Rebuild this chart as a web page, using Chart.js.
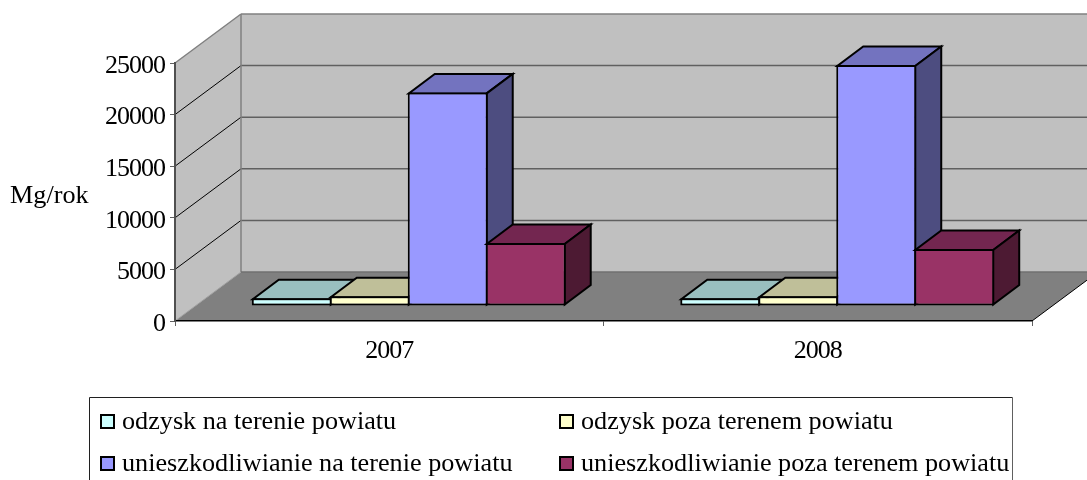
<!DOCTYPE html>
<html><head><meta charset="utf-8">
<style>html,body{margin:0;padding:0;background:#fff}canvas{display:block}</style>
<script src="https://cdn.jsdelivr.net/npm/chart.js@4"></script>
</head><body><canvas id="c" width="1087" height="480"></canvas>
<script>
const categories = ['2007', '2008'];
const odzyskNaTerenie = [750, 750];
const odzyskPozaTerenem = [940, 940];
const unieszkNaTerenie = [20700, 23350];
const unieszkPozaTerenem = [6100, 5520];
const seriesNames = ['odzysk na terenie powiatu','odzysk poza terenem powiatu','unieszkodliwianie na terenie powiatu','unieszkodliwianie poza terenem powiatu'];
const seriesColors = ['#CCFFFF','#FFFFCC','#9999FF','#993366'];
const topColors = ['#99BFBF','#BFBF99','#7373BF','#732650'];
const sideColors = ['#668080','#808066','#4D4D80','#4D1A33'];
const yUnit = 'Mg/rok';
const FONT = '"Liberation Serif", "Times New Roman", serif';
const WALL = {dx:66, dy:49};
const BAR = {shiftX:19.5, shiftY:15, dx:26, dy:19.5};

function poly(ctx, pts, fill, stroke, lw){
  ctx.beginPath();
  pts.forEach((p,i)=> i?ctx.lineTo(p[0],p[1]):ctx.moveTo(p[0],p[1]));
  ctx.closePath();
  if(fill){ctx.fillStyle=fill;ctx.fill();}
  if(stroke){ctx.strokeStyle=stroke;ctx.lineWidth=lw;ctx.lineJoin='miter';ctx.stroke();}
}
function seg(ctx,x1,y1,x2,y2,c,lw){
  ctx.beginPath();ctx.moveTo(x1,y1);ctx.lineTo(x2,y2);ctx.strokeStyle=c;ctx.lineWidth=lw;ctx.stroke();
}
const walls = {
  id:'walls',
  beforeDraw(chart){
    const {ctx,chartArea:a,scales:{y}} = chart;
    const d=WALL;
    ctx.save();
    poly(ctx,[[a.left+d.dx,a.top-d.dy],[a.right+d.dx,a.top-d.dy],[a.right+d.dx,a.bottom-d.dy],[a.left+d.dx,a.bottom-d.dy]],'#C0C0C0');
    poly(ctx,[[a.left,a.top],[a.left+d.dx,a.top-d.dy],[a.left+d.dx,a.bottom-d.dy],[a.left,a.bottom]],'#C0C0C0');
    poly(ctx,[[a.left,a.bottom],[a.right,a.bottom],[a.right+d.dx,a.bottom-d.dy],[a.left+d.dx,a.bottom-d.dy]],'#808080');
    y.ticks.forEach(t=>{
      const py=y.getPixelForValue(t.value);
      if(t.value>0 && t.value<y.max){
        seg(ctx,a.left,py,a.left+d.dx,py-d.dy,'#000',1);
        seg(ctx,a.left+d.dx,py-d.dy,a.right+d.dx,py-d.dy,'#606060',1.5);
      }
    });
    seg(ctx,a.left,a.top,a.left+d.dx,a.top-d.dy,'#808080',1.5);
    seg(ctx,a.left+d.dx,a.top-d.dy,a.right+d.dx,a.top-d.dy,'#808080',1.5);
    seg(ctx,a.left+d.dx,a.top-d.dy,a.left+d.dx,a.bottom-d.dy,'#808080',1.5);
    seg(ctx,a.left+d.dx,a.bottom-d.dy,a.right+d.dx,a.bottom-d.dy,'#707070',1.5);
    seg(ctx,a.left,a.bottom,a.left+d.dx,a.bottom-d.dy,'#A0A0A0',1);
    seg(ctx,a.right,a.bottom,a.right+d.dx,a.bottom-d.dy,'#000',1);
    ctx.restore();
    ctx.letterSpacing='-1px';
  },
  beforeDatasetsDraw(chart){
    const ctx=chart.ctx;
    const metas=chart.data.datasets.map((_,i)=>chart.getDatasetMeta(i));
    ctx.save();
    ctx.translate(BAR.shiftX,-BAR.shiftY);
    metas.forEach((meta,k)=>{
      meta.data.forEach(el=>{
        const l=el.x-el.width/2+1, r=el.x+el.width/2-1, t=el.y+1, b=el.base-1;
        poly(ctx,[[l,t],[r,t],[r+BAR.dx,t-BAR.dy],[l+BAR.dx,t-BAR.dy]],topColors[k],'#000',2);
        poly(ctx,[[r,t],[r+BAR.dx,t-BAR.dy],[r+BAR.dx,b-BAR.dy],[r,b]],sideColors[k],'#000',2);
      });
      meta.controller.draw();
    });
    ctx.restore();
    return false;
  },
  afterDraw(chart){
    const ctx=chart.ctx;
    ctx.save();
    ctx.letterSpacing='0px';
    ctx.font='26.2px '+FONT;
    ctx.fillStyle='#000';
    ctx.textAlign='left';
    ctx.textBaseline='alphabetic';
    ctx.fillText(yUnit,10,203);
    ctx.lineWidth=1;
    ctx.beginPath();
    ctx.moveTo(89.5,481);ctx.lineTo(89.5,397.5);ctx.lineTo(1012.5,397.5);ctx.strokeStyle='#202020';ctx.stroke();
    seg(ctx,1012.5,397.5,1012.5,481,'#606060',1);
    const cols=[100,559], rows=[421,463];
    seriesNames.forEach((n,i)=>{
      const x=cols[i%2], y=rows[i>>1];
      ctx.fillStyle=seriesColors[i];
      ctx.fillRect(x+1,y-6,13,13);
      ctx.strokeStyle='#000';ctx.lineWidth=2;
      ctx.strokeRect(x+1,y-6,13,13);
      ctx.fillStyle='#000';
      ctx.fillText(n,x+22,y+8);
    });
    ctx.restore();
  }
};
const datasetValues=[odzyskNaTerenie,odzyskPozaTerenem,unieszkNaTerenie,unieszkPozaTerenem];
new Chart(document.getElementById('c'),{
  type:'bar',
  data:{labels:categories,datasets:datasetValues.map((v,i)=>({
    label:seriesNames[i],data:v,backgroundColor:seriesColors[i],borderColor:'#000',borderWidth:2,borderSkipped:false,
    barPercentage:1.0256,categoryPercentage:0.728
  }))},
  plugins:[walls],
  options:{
    responsive:false,animation:false,
    layout:{padding:{top:63,right:55,left:0,bottom:0}},
    plugins:{legend:{display:false},tooltip:{enabled:false},title:{display:false}},
    scales:{
      x:{
        afterFit(s){s.height=159;},
        grid:{drawOnChartArea:false,drawTicks:true,tickLength:5,color:'#606060'},
        border:{color:'#000',width:1.5},
        ticks:{color:'#000',font:{family:FONT,size:26},padding:10,maxRotation:0}
      },
      y:{
        min:0,max:25000,
        afterFit(s){s.width=175;},
        grid:{drawOnChartArea:false,drawTicks:true,tickLength:5,color:'#606060'},
        border:{color:'#505050',width:2},
        ticks:{color:'#000',font:{family:FONT,size:26},stepSize:5000,padding:5,labelOffset:3,callback:v=>String(v)}
      }
    }
  }
});
</script></body></html>
